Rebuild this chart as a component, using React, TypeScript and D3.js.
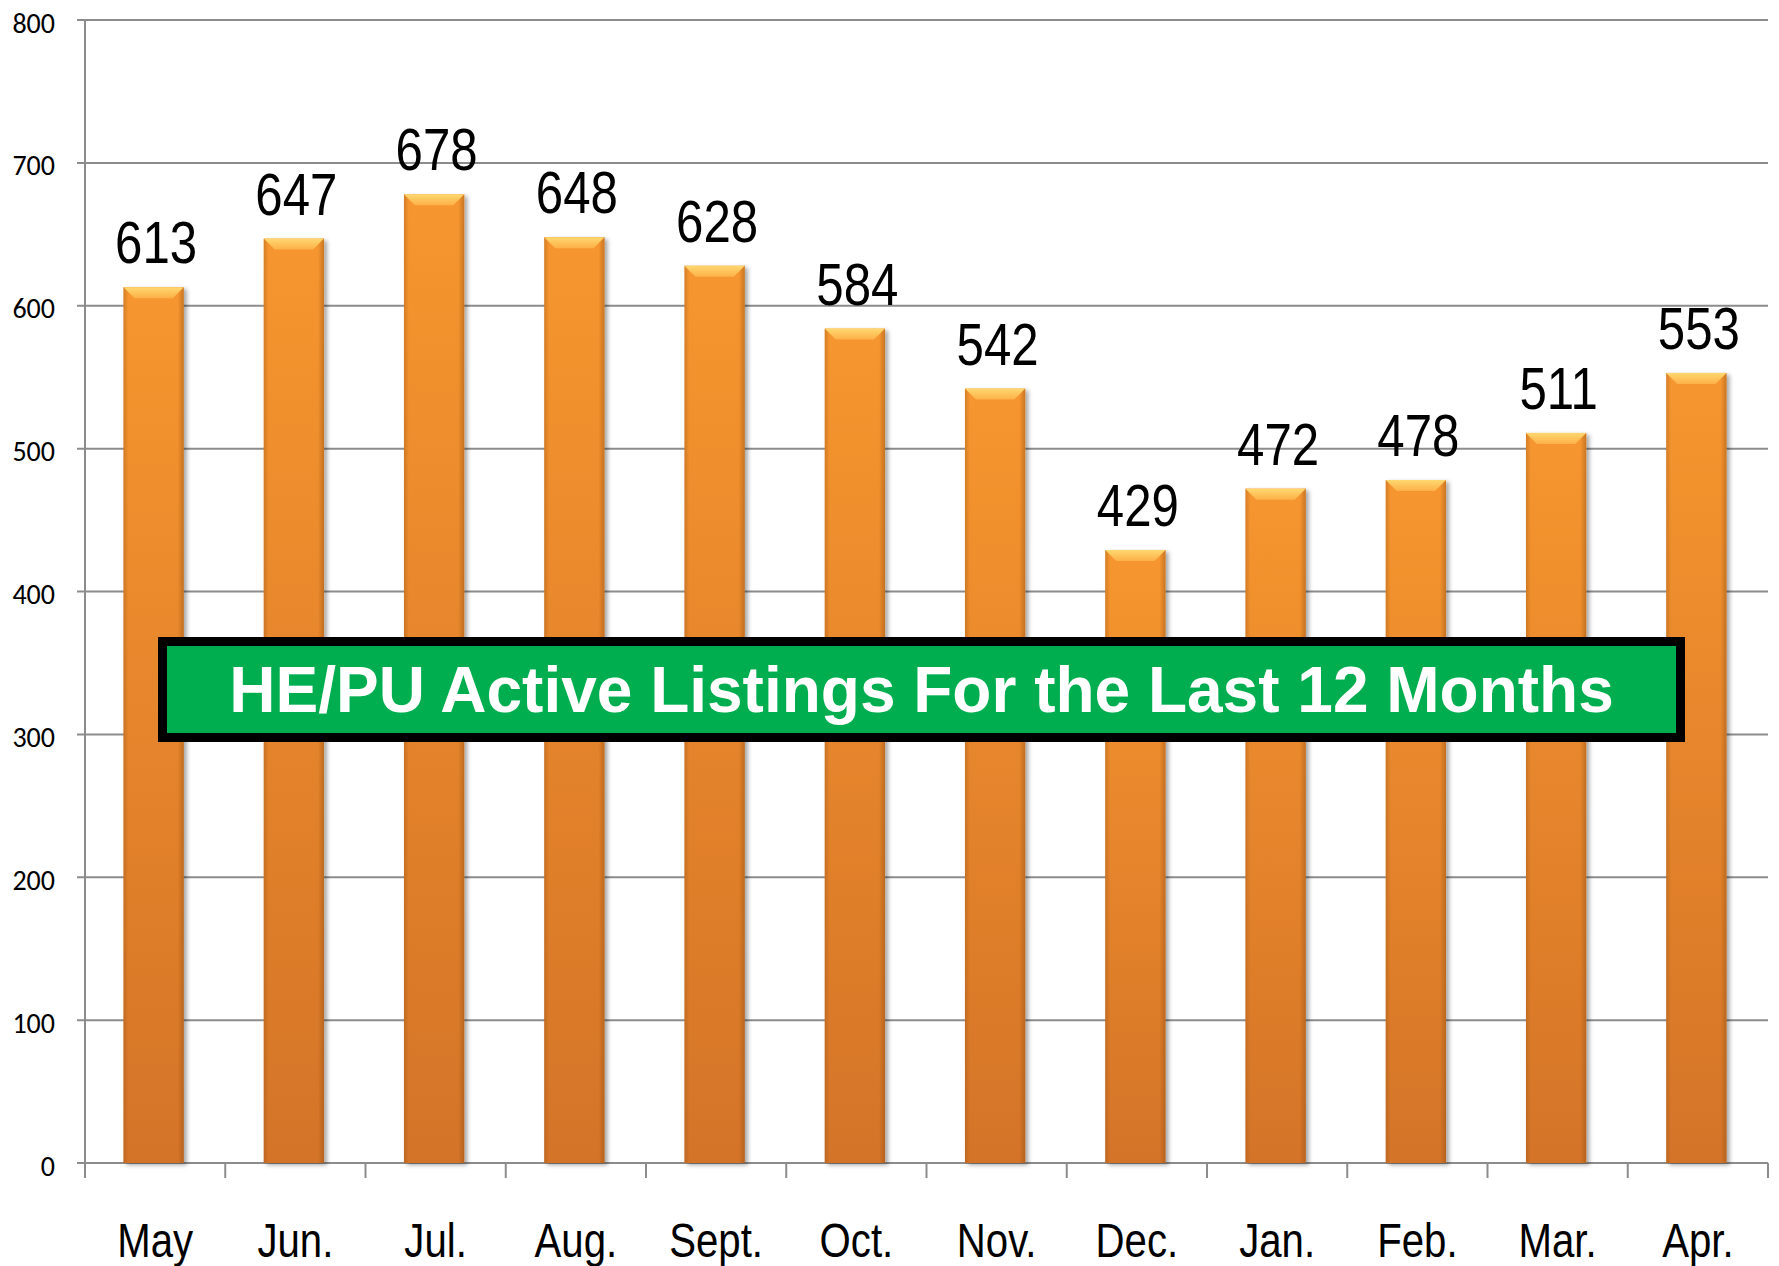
import React from "react";
import * as d3 from "d3";

const months = ["May", "Jun.", "Jul.", "Aug.", "Sept.", "Oct.", "Nov.", "Dec.", "Jan.", "Feb.", "Mar.", "Apr."];
const listings = [613, 647, 678, 648, 628, 584, 542, 429, 472, 478, 511, 553];
const yTicks = [0, 100, 200, 300, 400, 500, 600, 700, 800];
const title = "HE/PU Active Listings For the Last 12 Months";

const W = 1779;
const H = 1266;
const sans = "'Liberation Sans', Arial, sans-serif";
const NARROW = 0.82;

export default function App() {
  const x = d3.scaleBand<string>().domain(months).range([85, 1768]).paddingInner(0.57).paddingOuter(0.285);
  const y = d3.scaleLinear().domain([0, 800]).range([1163, 20]);
  const step = x.step();
  const bw = x.bandwidth();
  const bevel = 11;

  return (
    <svg width={W} height={H} style={{ position: "absolute", left: 0, top: 0, display: "block", background: "#fff" }}>
      <defs>
        <linearGradient id="barV" x1="0" y1="0" x2="0" y2="1">
          <stop offset="0" stopColor="#FC9A30" />
          <stop offset="1" stopColor="#D8762A" />
        </linearGradient>
        <linearGradient id="barH" x1="0" y1="0" x2="1" y2="0">
          <stop offset="0" stopColor="#8a4a10" stopOpacity="0.35" />
          <stop offset="0.08" stopColor="#8a4a10" stopOpacity="0.05" />
          <stop offset="0.9" stopColor="#8a4a10" stopOpacity="0.05" />
          <stop offset="1" stopColor="#8a4a10" stopOpacity="0.45" />
        </linearGradient>
        <linearGradient id="bevelG" x1="0" y1="0" x2="0" y2="1">
          <stop offset="0" stopColor="#FFD870" />
          <stop offset="1" stopColor="#FDB048" />
        </linearGradient>
        <filter id="shadow" x="-20%" y="-5%" width="140%" height="110%">
          <feDropShadow dx="3" dy="2" stdDeviation="2" floodColor="#000" floodOpacity="0.35" />
        </filter>
      </defs>

      {yTicks.map((t) => (
        <line key={"g" + t} x1={77} x2={1768} y1={y(t)} y2={y(t)} stroke="#8c8c8c" strokeWidth={2} />
      ))}
      <line x1={85} x2={85} y1={y(800)} y2={1178} stroke="#8c8c8c" strokeWidth={2} />
      {d3.range(months.length + 1).map((i) => (
        <line key={"c" + i} x1={85 + i * step} x2={85 + i * step} y1={y(0)} y2={1178} stroke="#8c8c8c" strokeWidth={2} />
      ))}
      {yTicks.map((t) => (
        <text key={"yl" + t} x={55} y={y(t) + 3} textAnchor="end" dominantBaseline="central"
          fontFamily="Carlito, Calibri, 'Open Sans', sans-serif" fontSize={28} fill="#000">
          {t}
        </text>
      ))}

      {months.map((m, i) => {
        const bx = (x(m) as number) - 1.5;
        const top = y(listings[i]);
        const h = y(0) - top;
        return (
          <g key={"b" + m}>
            <rect x={bx} y={top} width={bw} height={h} fill="url(#barV)" filter="url(#shadow)" />
            <rect x={bx} y={top} width={bw} height={h} fill="url(#barH)" />
            <polygon
              points={`${bx},${top} ${bx + bw},${top} ${bx + bw - bevel},${top + bevel} ${bx + bevel},${top + bevel}`}
              fill="url(#bevelG)"
            />
          </g>
        );
      })}

      {months.map((m, i) => (
        <text key={"v" + m}
          transform={`translate(${(x(m) as number) + bw / 2 + 1},${y(listings[i]) - 24}) scale(${NARROW},1)`}
          textAnchor="middle" fontFamily={sans} fontSize={60} fill="#000">
          {listings[i]}
        </text>
      ))}

      {months.map((m) => (
        <text key={"m" + m}
          transform={`translate(${(x(m) as number) + bw / 2},1257) scale(${NARROW},1)`}
          textAnchor="middle" fontFamily={sans} fontSize={49} fill="#000">
          {m}
        </text>
      ))}

      <rect x={162.5} y={641.5} width={1518} height={96} fill="#00AE4F" stroke="#000" strokeWidth={9} />
      <text x={921.5} y={712} textAnchor="middle" fontFamily={sans}
        fontWeight="bold" fontSize={64} fill="#fff">
        {title}
      </text>
    </svg>
  );
}
